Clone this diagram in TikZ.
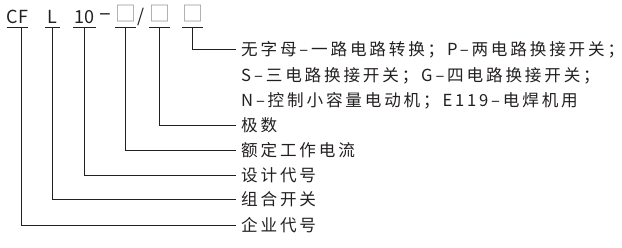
\documentclass[tikz,border=0pt]{standalone}
\usepackage{fontspec}
\usepackage{xcolor}
\setmainfont{Noto Sans CJK SC}
\newfontfamily\labelfont{Noto Sans CJK SC}[LetterSpace=17]
\definecolor{CodeInk}{HTML}{231F20}
\definecolor{BoxGray}{HTML}{9C9C9C}
\newcommand{\blank}{\raisebox{2pt}{\textcolor{BoxGray}{\fontsize{21}{21}\selectfont □}}}

\tikzset{
  codepart/.style={inner sep=0pt,minimum width=21pt,text height=14pt,text depth=3.5pt,
    anchor=south,font=\fontsize{18}{18}\selectfont,text=CodeInk},
  sep/.style={inner sep=0pt,font=\fontsize{18}{18}\selectfont,text=CodeInk},
  meaning/.style={anchor=west,inner xsep=5pt,inner ysep=0pt,text height=14pt,text depth=2pt,
    font=\labelfont\fontsize{16.6}{16.6}\selectfont,text=CodeInk},
  lead/.style={line width=1pt,draw=CodeInk}
}

\begin{document}
\begin{tikzpicture}[x=1pt,y=-1pt]
        \useasboundingbox (0,0) rectangle (622,247);
        % model code
        \node[codepart] (cf) at (17.5,27.5) {CF};
        \node[codepart,minimum width=15pt] (kind) at (52.5,27.5) {L};
        \node[codepart,minimum width=22pt] (design) at (84.5,27.5) {10};
        \node[sep,font=\fontsize{22}{22}\selectfont] (dash) at (105,17) {–};
        \node[codepart] (amp) at (125.5,27.5) {\blank};
        \node[sep] (slash) at (141,17) {/};
        \node[codepart] (pole) at (159.5,27.5) {\blank};
        \node[codepart] (mode) at (192.5,27.5) {\blank};
        \foreach \n in {cf,kind,design,amp,pole,mode}
          \draw[lead] (\n.south west) -- (\n.south east);

        % meanings
        \node[meaning] (modeA) at (236,49.5) {无字母–一路电路转换；P–两电路换接开关；};
        \node[meaning] (modeB) at (236,75.5) {S–三电路换接开关；G–四电路换接开关；};
        \node[meaning] (modeC) at (236,100.5) {N–控制小容量电动机；E119–电焊机用};
        \node[meaning] (poleL) at (236,125.5) {极数};
        \node[meaning] (ampL) at (236,150.5) {额定工作电流};
        \node[meaning] (designL) at (236,175.5) {设计代号};
        \node[meaning] (kindL) at (236,199.5) {组合开关};
        \node[meaning] (cfL) at (236,225.5) {企业代号};

        \draw[lead] (mode.south) |- (modeA.west);
        \draw[lead] (pole.south) |- (poleL.west);
        \draw[lead] (amp.south) |- (ampL.west);
        \draw[lead] (design.south) |- (designL.west);
        \draw[lead] (kind.south) |- (kindL.west);
        \draw[lead] ([xshift=4pt]cf.south) |- (cfL.west);
      \end{tikzpicture}
\end{document}
